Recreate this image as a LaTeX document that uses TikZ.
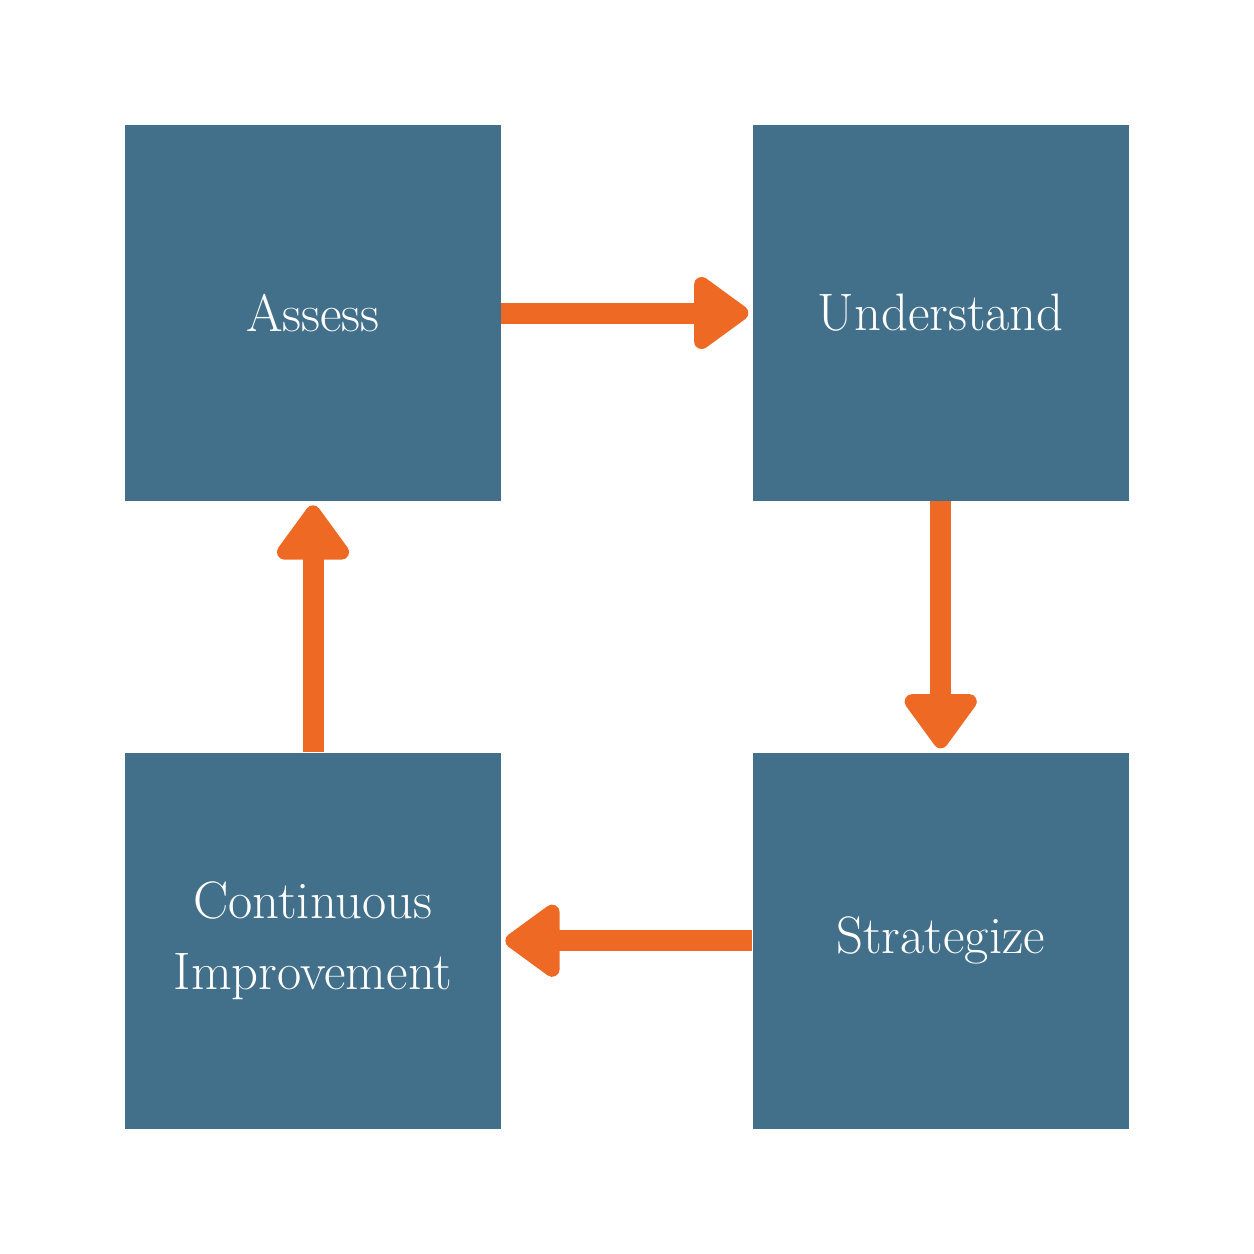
\documentclass[tikz,border=0pt]{standalone}
\usepackage{tikz}
\usetikzlibrary{arrows.meta, positioning}
\definecolor{boxblue}{HTML}{426F89}
\definecolor{arroworange}{HTML}{EE6A24}
\tikzstyle{block} = [rectangle, fill=boxblue, minimum width=7.52cm, minimum height=7.52cm, text=white, align=center, font=\fontsize{30}{40}\selectfont, inner sep=0pt]
\tikzstyle{arrow} = [arroworange, line width=0.42cm, -{Triangle[width=1.65cm,length=1.2cm,round]}, shorten >=0.08cm]

\begin{document}
\begin{tikzpicture}[node distance = 5.02cm]
		\useasboundingbox (0,0) rectangle (25.08,-25.08);
		\node (Assess) [block] at (6.26,-6.26) {Assess};
		\node (Understand) [block, right = of Assess] {Understand};
		\node (Strategize) [block, below = of Understand] {Strategize};
		\node (Improvement) [block, below = of Assess] {Continuous\\Improvement};
		\draw [arrow] (Assess) -- (Understand);
		\draw [arrow] (Understand) -- (Strategize);
		\draw [arrow] (Strategize) -- (Improvement);
		\draw [arrow] (Improvement) -- (Assess);
\end{tikzpicture}
\end{document}
